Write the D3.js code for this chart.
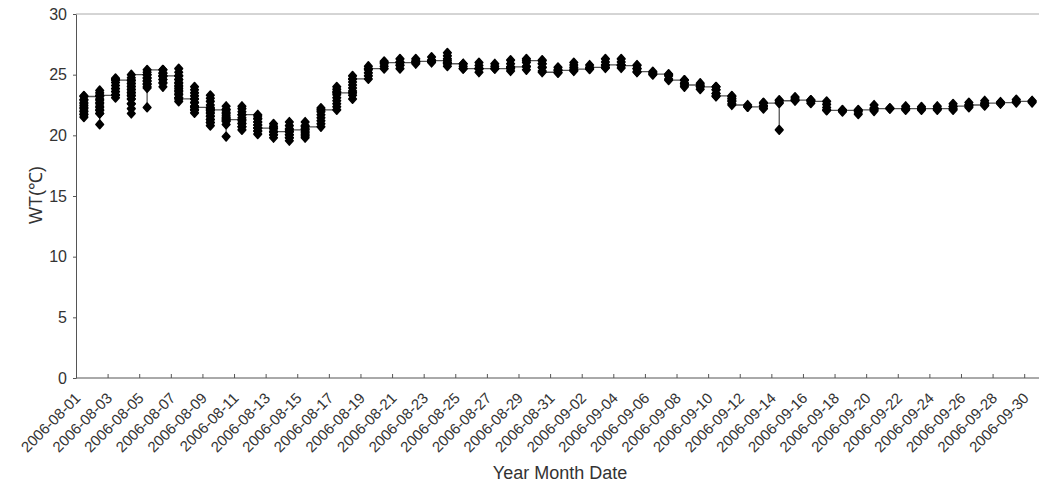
<!DOCTYPE html>
<html lang="en">
  <head>
    <meta charset="utf-8">
    <title>WT daily readings</title>
    <style>
      body { margin: 0; background: #fff; }
      svg { display: block; font-family: "Liberation Sans", Arial, sans-serif; }
      .axis path, .axis line { stroke: #555; }
      .axis text { fill: #333; }
    </style>
  </head>
  <body>
    <svg width="1039" height="483"></svg>

    <script src="https://cdnjs.cloudflare.com/ajax/libs/d3/7.8.5/d3.min.js"></script>
    <script>

    // first day of the record, one list of readings per day (in time order)
    var startDay = "2006-08-01";

    var readings = [
      [22.9, 22.6, 22.3, 22.0, 21.75, 21.5, 21.7, 21.95, 22.2, 22.45, 22.7, 22.95, 23.25, 23.2],
      [23.2, 22.9, 22.6, 22.3, 22.05, 21.8, 20.9, 21.8, 22.1, 22.4, 22.7, 23.0, 23.25, 23.5, 23.7, 23.3],
      [23.3, 23.1, 23.35, 23.6, 23.85, 24.1, 24.35, 24.6, 24.7, 24.55],
      [24.55, 24.3, 24.05, 23.8, 23.55, 23.3, 23.0, 22.6, 22.2, 21.8, 22.6, 23.0, 23.25, 23.5, 23.75, 24.0, 24.25, 24.5, 24.75, 25.0],
      [25.0, 24.7, 24.45, 24.2, 23.9, 22.3, 24.0, 24.25, 24.5, 24.75, 25.0, 25.2, 25.4],
      [25.4, 25.1, 24.85, 24.6, 24.35, 24.0, 24.3, 24.6, 24.9, 25.15, 25.4, 24.9],
      [24.9, 24.6, 24.35, 24.1, 23.85, 23.6, 23.35, 23.1, 22.8, 23.1, 23.4, 23.7, 24.0, 24.3, 24.6, 24.9, 25.2, 25.5, 23.0],
      [23.0, 22.7, 22.4, 22.1, 21.85, 22.1, 22.4, 22.7, 23.0, 23.25, 23.5, 23.75, 24.0, 22.3],
      [22.3, 22.05, 21.8, 21.55, 21.3, 21.05, 20.8, 21.05, 21.3, 21.6, 21.9, 22.2, 22.5, 22.8, 23.05, 23.3, 22.1],
      [22.1, 21.8, 21.5, 21.2, 20.9, 19.9, 21.15, 21.4, 21.65, 21.9, 22.15, 22.4, 21.3],
      [21.3, 21.0, 20.7, 20.45, 20.7, 20.95, 21.2, 21.45, 21.7, 21.95, 22.2, 22.4, 21.7],
      [21.7, 21.4, 21.1, 20.85, 20.6, 20.35, 20.1, 20.35, 20.6, 20.85, 21.1, 21.35, 21.6, 20.6],
      [20.6, 20.3, 20.05, 19.8, 20.05, 20.3, 20.55, 20.75, 20.95, 20.3],
      [20.3, 20.05, 19.8, 19.55, 19.8, 20.05, 20.3, 20.55, 20.8, 21.1, 20.45],
      [20.45, 20.2, 19.95, 19.8, 20.05, 20.3, 20.55, 20.8, 21.1, 20.7],
      [20.7, 20.95, 21.2, 21.45, 21.7, 21.95, 22.25, 22.1],
      [22.1, 22.35, 22.6, 22.85, 23.1, 23.35, 23.6, 23.8, 24.0, 23.5],
      [23.5, 23.0, 23.3, 23.65, 23.9, 24.15, 24.4, 24.65, 24.9, 24.65],
      [24.65, 24.9, 25.15, 25.4, 25.7, 25.5],
      [25.5, 25.7, 25.9, 26.1, 26.0],
      [26.0, 25.75, 25.5, 25.8, 26.05, 26.3, 26.0],
      [26.0, 25.9, 26.1, 26.3, 26.1],
      [26.1, 26.0, 26.2, 26.45, 26.15],
      [26.15, 25.95, 25.7, 26.0, 26.3, 26.55, 26.8, 25.9],
      [25.9, 25.5, 25.7, 25.9, 25.5],
      [25.5, 25.2, 25.5, 25.75, 26.0, 25.5],
      [25.5, 25.7, 25.9, 25.5],
      [25.5, 25.3, 25.6, 25.9, 26.2, 25.65],
      [25.65, 25.4, 25.7, 26.0, 26.3, 26.15],
      [26.15, 25.9, 25.6, 25.3, 25.6, 25.9, 26.2, 25.2],
      [25.2, 25.15, 25.4, 25.6, 25.35],
      [25.35, 25.3, 25.6, 25.8, 26.0, 25.45],
      [25.45, 25.5, 25.8, 25.6],
      [25.6, 25.55, 25.8, 26.05, 26.3, 25.8],
      [25.8, 25.55, 25.8, 26.05, 26.3, 25.75],
      [25.75, 25.5, 25.2, 25.5, 25.8, 25.25],
      [25.25, 25.0, 25.15, 25.05],
      [25.05, 24.65, 24.9, 25.0, 24.55],
      [24.55, 24.3, 24.0, 24.3, 24.55, 24.15],
      [24.15, 23.8, 24.05, 24.3, 24.0],
      [24.0, 23.75, 23.45, 23.2, 23.45, 23.75, 24.0, 23.25],
      [23.25, 23.0, 22.8, 22.6, 22.85, 23.05, 23.2, 22.5],
      [22.5, 22.35, 22.35],
      [22.35, 22.2, 22.45, 22.7, 22.65],
      [22.65, 20.45, 22.7, 22.9, 22.85],
      [22.85, 23.0, 23.15, 22.9],
      [22.9, 22.65, 22.9, 22.8],
      [22.8, 22.55, 22.3, 22.1, 22.05],
      [22.05, 21.95, 22.1, 22.05],
      [22.05, 21.75, 21.95, 22.1],
      [22.1, 22.0, 22.25, 22.5, 22.2],
      [22.2, 22.25, 22.2],
      [22.2, 22.1, 22.4, 22.2],
      [22.2, 22.1, 22.35, 22.2],
      [22.2, 22.1, 22.4, 22.2],
      [22.2, 22.1, 22.35, 22.6, 22.4],
      [22.4, 22.3, 22.5, 22.7, 22.5],
      [22.5, 22.45, 22.65, 22.85, 22.65],
      [22.65, 22.6, 22.75, 22.7],
      [22.7, 22.95, 22.8],
      [22.8, 22.7, 22.85]
    ];

    var yTicks = [0, 5, 10, 15, 20, 25, 30];

    var xTickLabels = [
      "2006-08-01", "2006-08-03", "2006-08-05", "2006-08-07", "2006-08-09", "2006-08-11",
      "2006-08-13", "2006-08-15", "2006-08-17", "2006-08-19", "2006-08-21", "2006-08-23",
      "2006-08-25", "2006-08-27", "2006-08-29", "2006-08-31", "2006-09-02", "2006-09-04",
      "2006-09-06", "2006-09-08", "2006-09-10", "2006-09-12", "2006-09-14", "2006-09-16",
      "2006-09-18", "2006-09-20", "2006-09-22", "2006-09-24", "2006-09-26", "2006-09-28",
      "2006-09-30"
    ];

    var svg = d3.select("svg"),
        plotLeft = 76, plotRight = 1040, plotTop = 14, plotBottom = 378;

    var parse = d3.utcParse("%Y-%m-%d");
    var day0 = parse(startDay);

    var x = d3.scaleUtc()
        .domain([day0, d3.utcDay.offset(day0, 61)])
        .range([plotLeft, plotRight]);

    var y = d3.scaleLinear()
        .domain([0, 30])
        .range([plotBottom, plotTop]);

    // every reading of a day sits at the middle of that day
    var points = [];
    readings.forEach(function(day, i) {
      var t = d3.utcHour.offset(d3.utcDay.offset(day0, i), 12);
      day.forEach(function(v) { points.push({t: t, v: v}); });
    });

    // top frame line
    svg.append("line")
        .attr("x1", plotLeft).attr("x2", 1039)
        .attr("y1", plotTop).attr("y2", plotTop)
        .attr("stroke", "#aaa")
        .attr("stroke-width", 1);

    // y axis
    var yAxis = svg.append("g")
        .attr("class", "axis")
        .attr("transform", "translate(" + plotLeft + ",0)")
        .call(d3.axisLeft(y).tickValues(yTicks).tickSize(3).tickPadding(6).tickSizeOuter(0));
    yAxis.selectAll("text").style("font-size", "16px");

    // x axis, ticks point up into the plot
    var xAxis = svg.append("g")
        .attr("class", "axis")
        .attr("transform", "translate(0," + plotBottom + ")")
        .call(d3.axisBottom(x)
          .tickValues(xTickLabels.map(parse))
          .tickFormat(d3.utcFormat("%Y-%m-%d"))
          .tickSize(-4)
          .tickSizeOuter(0));
    xAxis.select(".domain").attr("d", "M" + plotLeft + ",0H1039");
    xAxis.selectAll("text")
        .attr("x", 0).attr("y", 0).attr("dy", null)
        .attr("transform", "translate(5,21) rotate(-45)")
        .style("text-anchor", "end")
        .style("font-size", "15px");

    // connecting line
    var line = d3.line()
        .x(function(d) { return x(d.t); })
        .y(function(d) { return y(d.v); });

    svg.append("path")
        .datum(points)
        .attr("d", line)
        .attr("fill", "none")
        .attr("stroke", "#555")
        .attr("stroke-width", 1.3);

    // diamond markers, drawn a bit blobby like the scanned original
    svg.append("g")
        .selectAll("path")
        .data(points)
      .enter().append("path")
        .attr("transform", function(d) { return "translate(" + x(d.t) + "," + y(d.v) + ")"; })
        .attr("d", "M0,-4.3L3.8,0L0,4.3L-3.8,0Z")
        .attr("fill", "#000")
        .attr("stroke", "#000")
        .attr("stroke-width", 1.6)
        .attr("stroke-linejoin", "round");

    // axis titles
    svg.append("text")
        .attr("transform", "translate(42,195) rotate(-90)")
        .style("text-anchor", "middle")
        .style("font-size", "18px")
        .attr("fill", "#333")
        .text("WT(℃)");

    svg.append("text")
        .attr("x", 560).attr("y", 479)
        .style("text-anchor", "middle")
        .style("font-size", "18px")
        .attr("fill", "#333")
        .text("Year Month Date");

    </script>
  </body>
</html>
